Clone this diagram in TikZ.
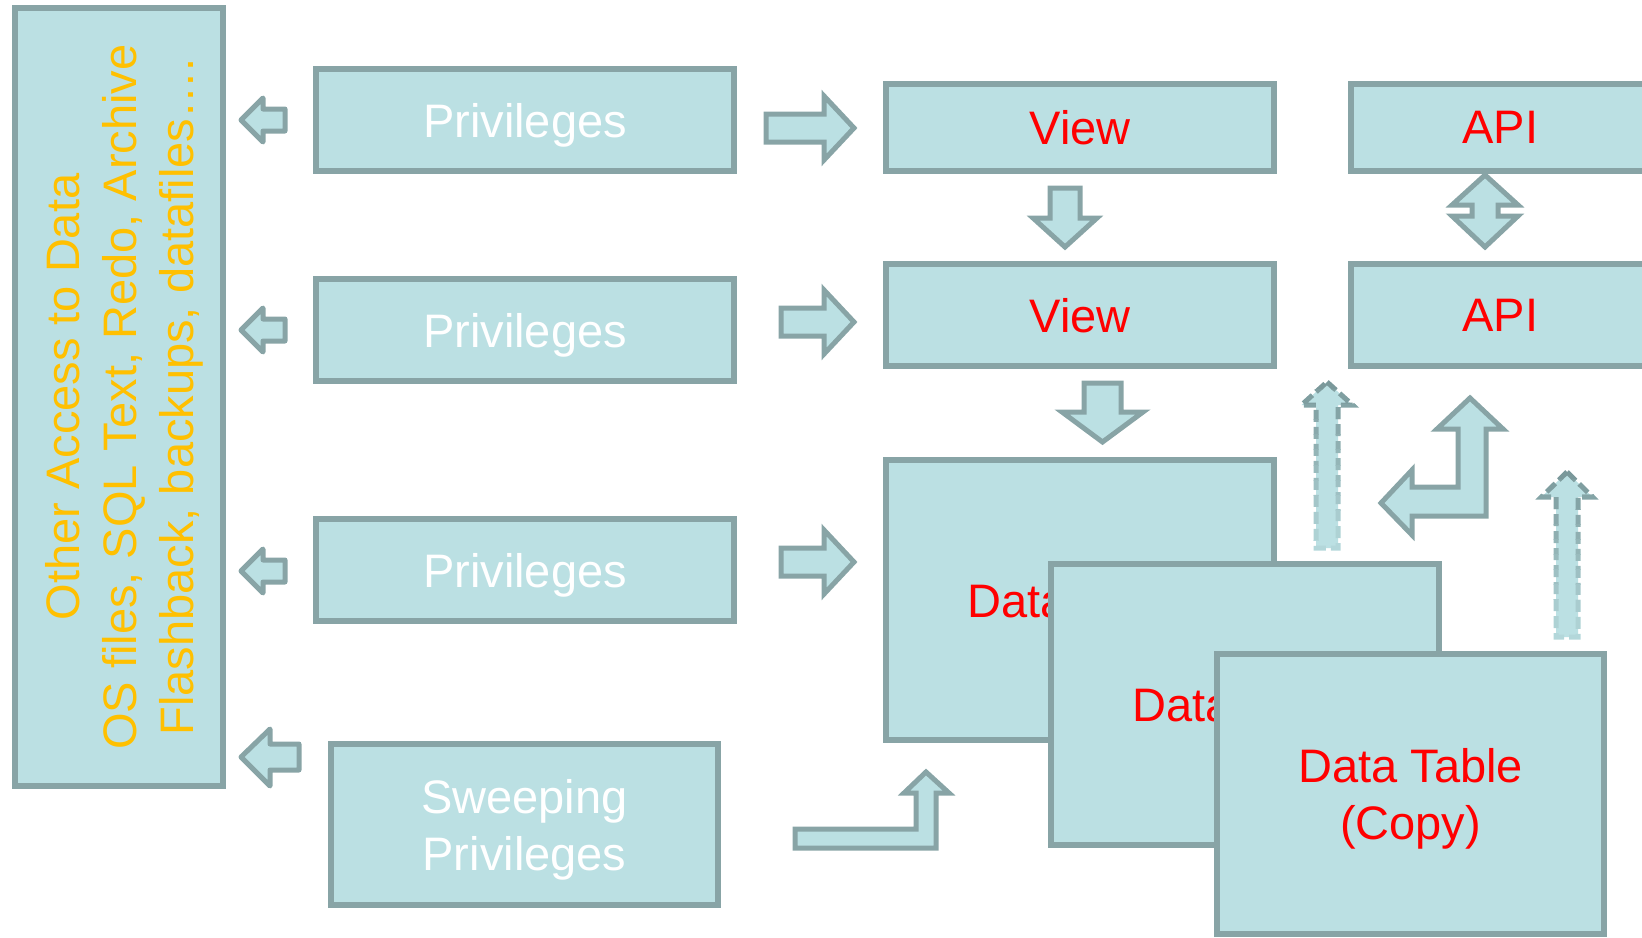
\documentclass[tikz,border=0pt]{standalone}
\usepackage{fontspec}
\setmainfont{Liberation Sans}
\definecolor{fl}{RGB}{187,224,227}
\definecolor{bd}{RGB}{136,164,166}
\definecolor{dk}{RGB}{122,152,154}
\definecolor{orng}{RGB}{255,192,0}
\newcommand{\dashup}[4]{% #1 x, #2 tip y, #3 head base y, #4 bottom y
  \fill[fl] (#1,#2) -- ({#1+25.5},#3) -- ({#1+11},#3) -- ({#1+11},#4) -- ({#1-11},#4) -- ({#1-11},#3) -- ({#1-25.5},#3) -- cycle;
  \foreach \i in {0,...,11} {
    \pgfmathtruncatemacro{\pc}{100-8*\i}
    \begin{scope}
      \clip ({#1-40},{#2-8+(#4-#2+16)*\i/12}) rectangle ({#1+40},{#2-8+(#4-#2+16)*(\i+1)/12});
      \draw[dsh, draw=dk!\pc!fl] (#1,#2) -- ({#1+25.5},#3) -- ({#1+11},#3) -- ({#1+11},#4) -- ({#1-11},#4) -- ({#1-11},#3) -- ({#1-25.5},#3) -- cycle;
    \end{scope}
  }
}
\newcommand{\leftarr}[1]{%
  \draw[blk, line join=round] (241,#1) -- (263,{#1-22}) -- (263,{#1-11}) -- (285,{#1-11}) -- (285,{#1+11}) -- (263,{#1+11}) -- (263,{#1+22}) -- cycle;}
\newcommand{\rightarr}[2]{% #1 tail x, #2 centre y
  \draw[blk] (#1,{#2-14}) -- (824,{#2-14}) -- (824,{#2-32}) -- (854,#2) -- (824,{#2+32}) -- (824,{#2+14}) -- (#1,{#2+14}) -- cycle;}
\begin{document}
\begin{tikzpicture}[x=0.5pt,y=-0.5pt,
  box/.style={draw=bd, fill=fl, line width=2.75pt, inner sep=0pt, align=center,
    text depth=0pt, font=\fontsize{23.5}{28.5}\selectfont},
  blk/.style={draw=bd, fill=fl, line width=2.5pt},
  dsh/.style={line width=2.5pt, dash pattern=on 6pt off 2.5pt}]
\useasboundingbox (0,0) rectangle (1642,937);
\clip (0,0) rectangle (1642,937);

% left box
\node[box, rotate=90, minimum width=389pt, minimum height=104pt, text=orng] (other) at (119,397)
  {Other Access to Data\\OS files, SQL Text, Redo, Archive\\Flashback, backups, datafiles….};

% privileges
\node[box, minimum width=209pt, minimum height=51pt, text=white] (p1) at (525,120) {Privileges};
\node[box, minimum width=209pt, minimum height=51pt, text=white] (p2) at (525,330) {Privileges};
\node[box, minimum width=209pt, minimum height=51pt, text=white] (p3) at (525,570) {Privileges};
\node[box, minimum width=193.5pt, minimum height=80.5pt, text=white] (sw) at (524.5,824.5) {Sweeping\\Privileges};

% views and APIs
\node[box, minimum width=194pt, minimum height=43.5pt, text=red] (v1) at (1080,127.5) {View};
\node[box, minimum width=194pt, minimum height=51pt, text=red] (v2) at (1080,315) {View};
\node[box, minimum width=149.5pt, minimum height=43.5pt, text=red] (a1) at (1500.5,127.5) {API};
\node[box, minimum width=149.5pt, minimum height=51pt, text=red] (a2) at (1500.5,315) {API};

% data tables
\node[box, minimum width=194pt, minimum height=140pt, text=red] (d1) at (1080,600) {Data Table};
\node[box, minimum width=194pt, minimum height=140.5pt, text=red] (d2) at (1245,704.5) {Data Table};
\node[box, minimum width=193.5pt, minimum height=140pt, text=red] (d3) at (1410.5,794) {Data Table\\(Copy)};

% left-pointing arrows
\leftarr{120}
\leftarr{330}
\leftarr{571}
\draw[blk, line join=round] (241,757) -- (270,729) -- (270,744) -- (299,744) -- (299,770) -- (270,770) -- (270,786) -- cycle;

% right-pointing arrows
\rightarr{766}{128}
\rightarr{781}{322}
\rightarr{781}{562}

% down arrows
\draw[blk] (1050,188) -- (1080,188) -- (1080,218) -- (1097,218) -- (1065,247) -- (1033,218) -- (1050,218) -- cycle;
\draw[blk] (1084,383) -- (1121,383) -- (1121,412) -- (1143,412) -- (1102.5,442) -- (1062,412) -- (1084,412) -- cycle;

% double arrow between APIs
\draw[blk] (1485,175) -- (1518,205) -- (1498,205) -- (1498,216) -- (1518,216) -- (1485,247)
  -- (1452,216) -- (1472,216) -- (1472,205) -- (1452,205) -- cycle;

% bent arrow (up and left)
\draw[blk] (1470,398) -- (1503,429) -- (1486,429) -- (1486,516) -- (1412,516) -- (1412,535)
  -- (1381,503) -- (1412,470) -- (1412,487) -- (1458,487) -- (1458,429) -- (1437,429) -- cycle;

% bent arrow (bottom)
\draw[blk] (926,772) -- (949,793) -- (936,793) -- (936,848) -- (795,848) -- (795,829)
  -- (916,829) -- (916,793) -- (904,793) -- cycle;

% dashed up arrows
\dashup{1327}{382}{405}{548}
\dashup{1567}{472}{497}{637}
\end{tikzpicture}
\end{document}
